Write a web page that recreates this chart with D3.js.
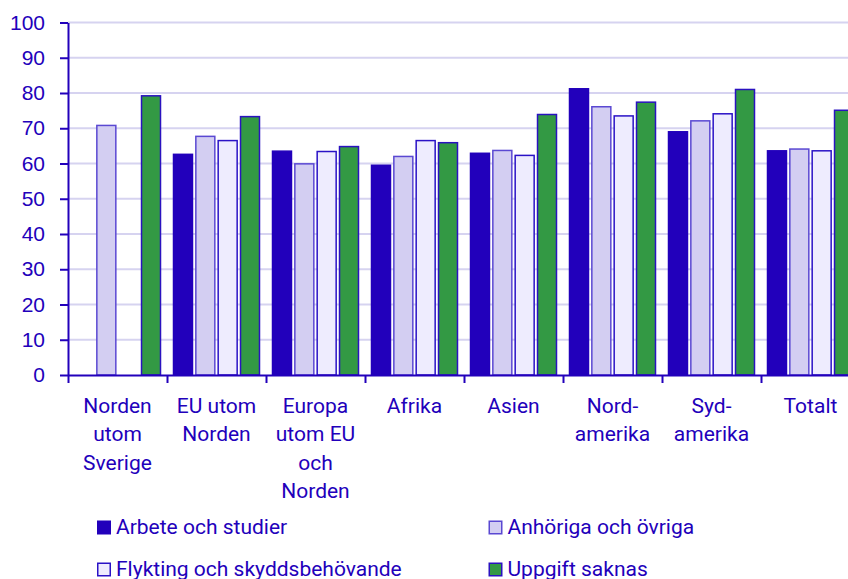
<!DOCTYPE html>
<html>
<head>
<meta charset="utf-8">
<script src="https://cdn.jsdelivr.net/npm/d3@7"></script>
<style>
  body { margin: 0; background: #fff; }
  svg { display: block; font-family: Roboto, "Noto Sans", sans-serif; }
</style>
</head>
<body>
<div id="chart"></div>
<script>
// Data
// ----
var categories = ["Norden utom Sverige", "EU utom Norden", "Europa utom EU och Norden",
	"Afrika", "Asien", "Nordamerika", "Sydamerika", "Totalt"];
var tickLabels = [
	["Norden", "utom", "Sverige"],
	["EU utom", "Norden"],
	["Europa", "utom EU", "och", "Norden"],
	["Afrika"],
	["Asien"],
	["Nord-", "amerika"],
	["Syd-", "amerika"],
	["Totalt"]
];
var seriesNames = ["Arbete och studier", "Anhöriga och övriga", "Flykting och skyddsbehövande", "Uppgift saknas"];
var arbete    = [null, 62.6, 63.5, 59.5, 62.9, 81.2, 69.0, 63.6];
var anhoriga  = [70.8, 67.7, 59.9, 62.0, 63.7, 76.1, 72.1, 64.1];
var flykting  = [null, 66.5, 63.4, 66.5, 62.3, 73.5, 74.1, 63.6];
var uppgift   = [79.2, 73.3, 64.8, 65.9, 73.9, 77.4, 81.0, 75.1];
var yTicks = [0, 10, 20, 30, 40, 50, 60, 70, 80, 90, 100];

var seriesValues = [arbete, anhoriga, flykting, uppgift];

var ink = "#2200bb";
var fills   = ["#2200bb", "#d3cef2", "#eeecfe", "#339944"];
var strokes = ["#2200bb", "#5a48d2", "#2a12c6", "#2a12c0"];

var W = 848, H = 579;
var margin = {left: 68, top: 22.5, bottom: 375};
var groupW = 99;

var svg = d3.select("#chart").append("svg")
	.attr("width", W)
	.attr("height", H);

// Scales
var x0 = d3.scaleBand()
	.domain(categories)
	.range([margin.left, margin.left + groupW * categories.length])
	.padding(0);

var x1 = d3.scaleBand()
	.domain(d3.range(seriesNames.length))
	.range([6.5, groupW - 6.5])
	.paddingInner(0.15);

var y = d3.scaleLinear()
	.domain([0, 100])
	.range([margin.bottom, margin.top]);

// Gridlines
svg.append("g")
	.selectAll("line")
	.data(yTicks.filter(function(d) { return d > 0; }))
	.enter().append("line")
		.attr("x1", margin.left)
		.attr("x2", W)
		.attr("y1", function(d) { return y(d); })
		.attr("y2", function(d) { return y(d); })
		.attr("stroke", "#d6d3f0")
		.attr("stroke-width", 2);

// Bars
var rows = categories.map(function(c, i) {
	return seriesValues.map(function(s, j) { return {cat: c, s: j, v: s[i]}; });
});

svg.append("g")
	.selectAll("g")
	.data(rows)
	.enter().append("g")
		.attr("transform", function(d, i) { return "translate(" + x0(categories[i]) + ",0)"; })
	.selectAll("rect")
	.data(function(d) { return d.filter(function(e) { return e.v != null; }); })
	.enter().append("rect")
		.attr("x", function(d) { return x1(d.s); })
		.attr("y", function(d) { return y(d.v); })
		.attr("width", x1.bandwidth())
		.attr("height", function(d) { return y(0) - y(d.v); })
		.attr("fill", function(d) { return fills[d.s]; })
		.attr("stroke", function(d) { return strokes[d.s]; })
		.attr("stroke-width", 1.5);

// Y axis
var yAxis = svg.append("g")
	.attr("transform", "translate(" + margin.left + ",0)")
	.call(d3.axisLeft(y).tickValues(yTicks).tickSize(8).tickPadding(15).tickSizeOuter(0));
yAxis.select(".domain").attr("stroke", ink).attr("stroke-width", 2);
yAxis.selectAll(".tick line").attr("stroke", ink).attr("stroke-width", 2);
yAxis.selectAll(".tick text")
	.attr("fill", ink)
	.style("font-size", "21px");

// X axis: ticks on group boundaries
var xb = d3.scaleLinear()
	.domain([0, categories.length])
	.range(x0.range());
var xAxis = svg.append("g")
	.attr("transform", "translate(0," + margin.bottom + ")")
	.call(d3.axisBottom(xb).ticks(categories.length).tickSize(8).tickFormat("").tickSizeOuter(0));
xAxis.select(".domain").attr("stroke", ink).attr("stroke-width", 2);
xAxis.selectAll(".tick line").attr("stroke", ink).attr("stroke-width", 2);

// X labels (multi-line)
svg.append("g")
	.selectAll("text")
	.data(categories)
	.enter().append("text")
		.attr("x", function(d) { return x0(d) + x0.bandwidth() / 2; })
		.attr("y", 413)
		.attr("text-anchor", "middle")
		.attr("fill", ink)
		.style("font-size", "21px")
	.selectAll("tspan")
	.data(function(d, i) { return tickLabels[i]; })
	.enter().append("tspan")
		.attr("x", function() { return this.parentNode.getAttribute("x"); })
		.attr("dy", function(d, i) { return i === 0 ? 0 : 28.3; })
		.text(function(d) { return d; });

// Legend
var legendPos = [[97, 534], [488.5, 534], [97, 576], [488.5, 576]];
var legend = svg.append("g")
	.selectAll("g")
	.data(seriesNames)
	.enter().append("g")
		.attr("transform", function(d, i) { return "translate(" + legendPos[i][0] + "," + legendPos[i][1] + ")"; });

legend.append("rect")
	.attr("x", 0.75)
	.attr("y", -12.75)
	.attr("width", 12.5)
	.attr("height", 12.5)
	.attr("fill", function(d, i) { return fills[i]; })
	.attr("stroke", function(d, i) { return strokes[i]; })
	.attr("stroke-width", 1.5);

legend.append("text")
	.attr("x", 19)
	.attr("y", 0)
	.attr("fill", ink)
	.style("font-size", "21px")
	.text(function(d) { return d; });
</script>
</body>
</html>
